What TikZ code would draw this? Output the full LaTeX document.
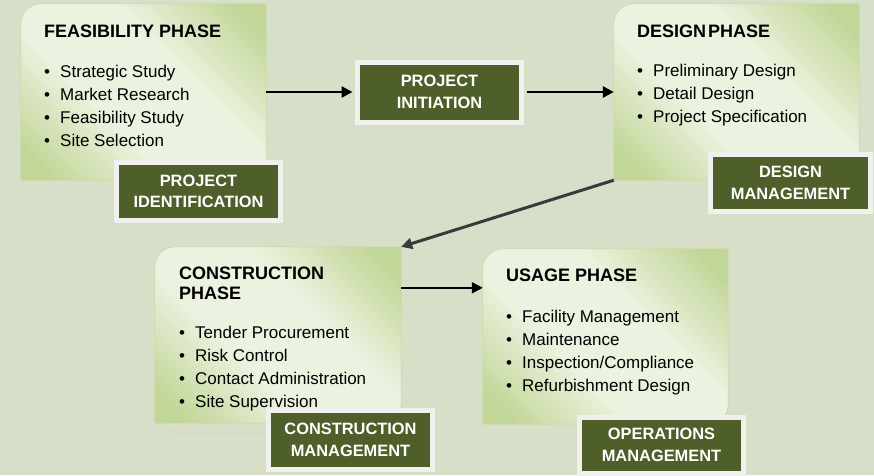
\documentclass[tikz,border=0pt]{standalone}
\usepackage{fontspec}
\setmainfont{Liberation Sans}
\usetikzlibrary{arrows.meta}
\definecolor{bgcol}{RGB}{215,223,200}
\definecolor{phaselight}{RGB}{236,242,224}
\definecolor{phasedark}{RGB}{194,214,152}
\definecolor{phaseline}{RGB}{205,220,170}
\definecolor{labelfill}{RGB}{79,95,42}
\definecolor{labelline}{RGB}{240,241,236}
\definecolor{slant}{RGB}{58,58,58}
\pgfdeclareverticalshading{phasesweep}{100bp}{color(0bp)=(phasedark); color(20bp)=(phasedark);
  color(40bp)=(phaselight); color(60bp)=(phaselight); color(80bp)=(phasedark); color(100bp)=(phasedark)}
\tikzset{
  phasebox/.style={inner sep=0pt},
  phasefill/.style={shading=phasesweep, shading angle=-45, draw=phaseline, line width=0.8pt},
  title/.style={anchor=base west, inner sep=0pt, align=left, font=\bfseries\fontsize{18}{20}\selectfont},
  items/.style={anchor=base west, inner sep=0pt, align=left, font=\fontsize{17}{23}\selectfont},
  mgmt/.style={fill=labelfill, draw=labelline, line width=5pt, text=white, align=center,
    inner sep=0pt, font=\bfseries\fontsize{16.4}{21.5}\selectfont},
  flow/.style={-{Triangle[length=11pt,width=11pt]}, line width=2.5pt}
}
\newcommand\phaseshape[1]{%
  \shadedraw[phasefill] (#1.south west) -- ([yshift=-20pt]#1.north west)
    to[out=90,in=180] ([xshift=20pt]#1.north west) -- (#1.north east)
    -- ([yshift=20pt]#1.south east) to[out=-90,in=0] ([xshift=-20pt]#1.south east)
    -- cycle;}
\newcommand\bul{\makebox[16pt][l]{\textbullet}}

\begin{document}
\begin{tikzpicture}[x=1pt,y=-1pt]
  \fill[bgcol] (0,0) rectangle (874,475);
  \useasboundingbox (0,0) rectangle (874,475);

  % phase boxes
  \node[phasebox, minimum width=245pt, minimum height=176pt] (feas) at (143.5,92) {};
  \node[phasebox, minimum width=245pt, minimum height=176pt] (design) at (736.5,92) {};
  \node[phasebox, minimum width=246pt, minimum height=176pt] (constr) at (278,335) {};
  \node[phasebox, minimum width=245pt, minimum height=175pt] (usage) at (605.5,336.5) {};
  \phaseshape{feas}
  \phaseshape{design}
  \phaseshape{constr}
  \phaseshape{usage}
  \draw[phaseline, line width=0.8pt] ([xshift=8pt]constr.south west)
    to[out=-60,in=180] ([xshift=28pt,yshift=-10pt]constr.south west) -- ([yshift=-10pt]constr.south east);

  % texts (base = last line)
  \node[title] (feastitle) at (44,37) {FEASIBILITY PHASE};
  \node[items] (feasitems) at (44,146) {\bul Strategic Study\\ \bul Market Research\\
    \bul Feasibility Study\\ \bul Site Selection};
  \node[title] (destitle) at (637,37) {DESIGN\hspace{2pt}PHASE};
  \node[items] (desitems) at (637,122) {\bul Preliminary Design\\ \bul Detail Design\\
    \bul Project Specification};
  \node[title] (contitle) at (179,299) {CONSTRUCTION\\ PHASE};
  \node[items] (conitems) at (179,407) {\bul Tender Procurement\\ \bul Risk Control\\
    \bul Contact Administration\\ \bul Site Supervision};
  \node[title] (usetitle) at (506,281) {USAGE PHASE};
  \node[items] (useitems) at (506,391) {\bul Facility Management\\ \bul Maintenance\\
    \bul Inspection/Compliance\\ \bul Refurbishment Design};

  % management labels
  \node[mgmt, minimum width=164pt, minimum height=58pt] (ident) at (198.5,191.5) {PROJECT\\ IDENTIFICATION};
  \node[mgmt, minimum width=164pt, minimum height=60pt] (init) at (439.5,92) {PROJECT\\ INITIATION};
  \node[mgmt, minimum width=160pt, minimum height=57pt] (desmgmt) at (790.5,183) {DESIGN\\ MANAGEMENT};
  \node[mgmt, minimum width=164pt, minimum height=59.5pt] (conmgmt) at (350.5,440) {CONSTRUCTION\\ MANAGEMENT};
  \node[mgmt, minimum width=164pt, minimum height=56pt] (opsmgmt) at (661.5,445) {OPERATIONS\\ MANAGEMENT};

  % arrows
  \draw[flow] (feas.east) -- ([xshift=-2.5pt]init.west);
  \draw[flow] ([xshift=2.5pt]init.east) -- (design.west);
  \draw[flow, slant, line width=3pt] (design.south west) -- (constr.north east);
  \draw[flow, line width=2pt] ([yshift=-41pt]constr.north east) -- ([yshift=-41pt]constr.north east -| usage.west);
\end{tikzpicture}
\end{document}
